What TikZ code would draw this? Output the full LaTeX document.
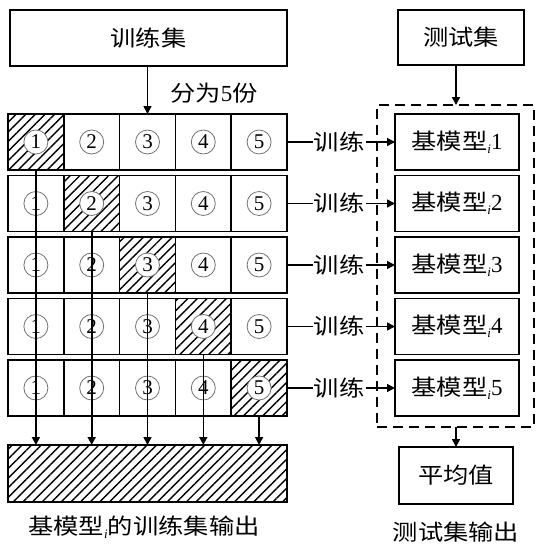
\documentclass[tikz,border=0pt]{standalone}
\usepackage{fontspec}
\setmainfont{Liberation Serif}
\newfontfamily\cjk[FakeStretch=1.15]{Noto Sans CJK SC}
\usetikzlibrary{arrows.meta,patterns.meta}
\newcommand{\subi}{\raisebox{-4pt}{\normalfont\fontsize{13}{13}\selectfont\itshape i}}
\newcommand{\rmnum}[1]{{\normalfont\fontsize{23}{23}\selectfont #1}}
\begin{document}
\begin{tikzpicture}[x=1pt,y=-1pt,
 box/.style={draw,line width=1.5pt,inner sep=0pt,outer sep=0pt,anchor=north west},
 cell/.style={box,minimum width=55.8pt,minimum height=56pt},
 hatch/.style={pattern={Lines[angle=45,distance=6.8pt,line width=1.4pt]}},
 circnum/.style={circle,draw=black!55,line width=0.8pt,fill=white,minimum size=24pt,inner sep=0pt,font=\fontsize{21}{21}\selectfont},
 arr/.style={line width=1.6pt,-{Triangle[length=8pt,width=8pt]}},
 zh/.style={font=\cjk\fontsize{22}{22}\selectfont,inner sep=1pt},
 plain/.style={line width=1.5pt}]
\useasboundingbox (0,0) rectangle (537,544);

% top boxes
\node[box,zh,minimum width=277pt,minimum height=56pt] (train) at (10,10) {训练集};
\node[box,zh,minimum width=126pt,minimum height=55pt] (test) at (398,10) {测试集};

% grid
\foreach \r in {1,...,5}{
  \foreach \c in {1,...,5}{
    \pgfmathsetmacro\xx{8+55.8*(\c-1)}
    \pgfmathsetmacro\yy{114+61.5*(\r-1)}
    \ifnum\r=\c
      \node[cell,hatch] (c\r\c) at (\xx,\yy) {};
    \else
      \node[cell] (c\r\c) at (\xx,\yy) {};
    \fi
    \node[circnum] (n\r\c) at (c\r\c.center) {\c};
  }
}

% dashed box and model boxes
\node[draw,dash pattern=on 10pt off 6pt,line width=1.7pt,inner sep=0pt,outer sep=0pt,anchor=north west,minimum width=157pt,minimum height=322pt] (dbox) at (377,105) {};
\foreach \r in {1,...,5}{
  \pgfmathsetmacro\yy{114+61.5*(\r-1)}
  \node[box,zh,minimum width=124pt,minimum height=56pt] (m\r) at (395,\yy) {基模型\subi\rmnum{\r}};
  \node[zh] (t\r) at (339,\yy+28) {训练};
  \draw[plain] (c\r5.east) -- (t\r.west);
  \draw[arr] (t\r.east) -- (m\r.west);
}

% bottom boxes
\node[box,hatch,minimum width=279pt,minimum height=57pt] (out) at (8,445) {};
\node[box,zh,minimum width=114pt,minimum height=57pt] (avg) at (399,447) {平均值};

% arrows
\draw[arr] (train.south -| c13.north) -- (c13.north);
\node[zh] (split) at (214,93) {分为\rmnum{5}份};
\draw[arr] (avg.north |- test.south) -- (avg.north |- dbox.north);
\draw[arr] (avg.north |- dbox.south) -- (avg.north);
\foreach \k in {1,...,5}{
  \draw[arr] (c\k\k.south) -- (c\k\k.south |- out.north);
}

% labels
\node[zh] (lab1) at (144,527) {基模型\subi 的训练集输出};
\node[zh] (lab2) at (456,532) {测试集输出};
\end{tikzpicture}
\end{document}
